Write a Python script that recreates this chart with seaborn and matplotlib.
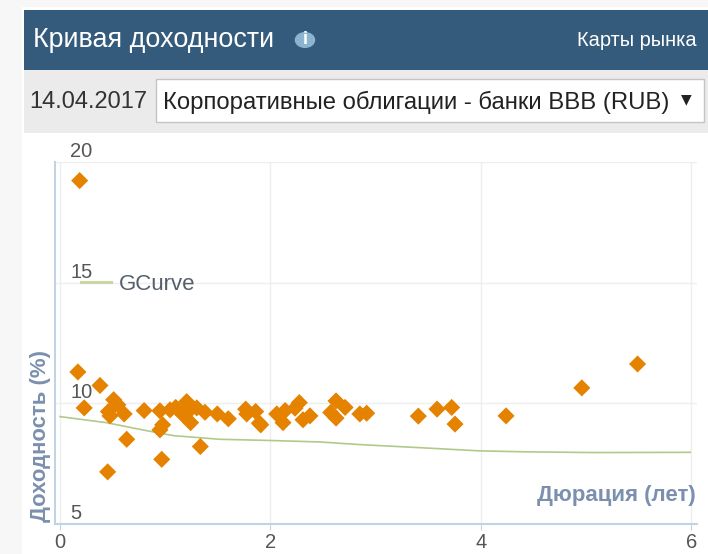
import pandas as pd
import matplotlib
matplotlib.use('Agg')
import matplotlib.pyplot as plt
import matplotlib.transforms as mtrans
from matplotlib.patches import Rectangle, Circle
import seaborn as sns

# bonds
duration = [0.17, 0.38, 0.23, 0.46, 0.475, 0.51, 0.55, 0.61, 0.80, 0.95, 0.976, 0.95, 0.634, 0.453,
            0.967, 1.334, 1.046, 1.10, 1.204, 1.255, 1.17, 1.242, 1.30, 1.378, 1.495, 1.60, 1.765,
            1.775, 1.86, 1.895, 1.908, 2.06, 2.14, 2.12, 2.275, 2.234, 2.31, 2.376, 2.573, 2.624,
            2.624, 2.71, 2.85, 2.915, 3.406, 3.584, 3.723, 3.755, 4.24, 4.96, 5.49, 0.187]
yields = [11.3, 10.74, 9.81, 9.66, 9.48, 10.15, 9.94, 9.56, 9.70, 9.69, 9.11, 8.9, 8.51, 7.16,
          7.68, 8.21, 9.73, 9.83, 10.07, 9.81, 9.52, 9.2, 9.81, 9.63, 9.56, 9.36, 9.76,
          9.56, 9.66, 9.18, 9.11, 9.56, 9.7, 9.2, 10.03, 9.8, 9.32, 9.48, 9.62, 9.39,
          10.1, 9.83, 9.56, 9.59, 9.47, 9.76, 9.83, 9.14, 9.48, 10.64, 11.63, 19.23]

# GCurve
curve_x = [0.0, 0.44, 0.82, 1.08, 1.52, 2.0, 2.47, 2.85, 3.39, 3.99, 4.44, 5.07, 5.99]
curve_y = [9.45, 9.2, 8.87, 8.66, 8.51, 8.46, 8.4, 8.29, 8.17, 8.03, 7.99, 7.96, 7.97]

x_ticks = [0, 2, 4, 6]
y_ticks = [5, 10, 15, 20]

W, H = 708, 554
FONT = 'Liberation Sans'
plt.rcParams['font.family'] = FONT

fig = plt.figure(figsize=(W / 100, H / 100), dpi=100, facecolor='#f7f7f7')


def box(x0, y0, x1, y1, **kw):
    # rectangle given in picture pixels, y going down
    r = Rectangle((x0 / W, 1 - y1 / H), (x1 - x0) / W, (y1 - y0) / H, transform=fig.transFigure, **kw)
    fig.add_artist(r)
    return r


def label(x, y, s, **kw):
    return fig.text(x / W, 1 - y / H, s, **kw)


# page furniture
box(22, 7, W, H, fc='white', ec='none')
box(24, 10, W, 70, fc='#345b7b', ec='none')
box(24, 70, W, 133, fc='#ebebeb', ec='none')
box(156, 79, 704, 122, fc='white', ec='#c4c4c4', lw=1)

label(33, 40, 'Кривая доходности', color='white', fontsize=19.4, va='center')
fig.add_artist(Circle((305 / W, 1 - 40 / H), 0.0145, transform=fig.transFigure, fc='#8db4cf', ec='none'))
label(305, 40, 'i', color='white', fontsize=13, fontweight='bold', ha='center', va='center')
label(697, 40, 'Карты рынка', color='white', fontsize=14.4, ha='right', va='center')
label(29, 102, '14.04.2017', color='#333333', fontsize=17, va='center')
t = label(163, 102, 'Корпоративные облигации - банки BBB (RUB)', color='#222222', fontsize=17.2, va='center')
t.set_clip_path(Rectangle((157, H - 122), 511, 43, transform=None))
t.set_clip_on(True)
label(686, 99, '▼', color='#222222', fontsize=10, ha='center', va='center', family='DejaVu Sans')

# chart
ax = fig.add_axes([55 / W, 1 - 524 / H, (697 - 55) / W, (524 - 162) / H])
ax.set_zorder(5)
bonds = pd.DataFrame({'duration': duration, 'yield': yields})
gcurve = pd.DataFrame({'duration': curve_x, 'yield': curve_y})

sns.lineplot(data=gcurve, x='duration', y='yield', ax=ax, color='#b3c98a', lw=1.2, label='GCurve', zorder=2)
sns.scatterplot(data=bonds, x='duration', y='yield', ax=ax, marker='D', color='#e58200', s=76,
                edgecolor='none', zorder=3, clip_on=False)

ax.set_xlim(-0.0475, 6.055)
ax.set_ylim(5, 20)
ax.set_xticks(x_ticks)
ax.set_yticks(y_ticks)
ax.grid(True, color='#eeeeee', lw=1)
ax.set_axisbelow(True)
ax.set_facecolor('none')
ax.spines['top'].set_visible(False)
ax.spines['right'].set_visible(False)
ax.spines['left'].set_color('#c3d3e6')
ax.spines['bottom'].set_color('#c3d3e6')
ax.spines['left'].set_linewidth(1.5)
ax.spines['bottom'].set_linewidth(1.5)
ax.tick_params(axis='x', length=4, color='#c3d3e6', labelcolor='#555555', labelsize=14.5, pad=2.5)
ax.tick_params(axis='y', length=0, labelcolor='#555555', labelsize=14.5, pad=-11)

# y tick labels sit inside the plot, just above their grid lines
shift = mtrans.ScaledTranslation(0, 1 / 100, fig.dpi_scale_trans)
for lab in ax.get_yticklabels():
    lab.set_ha('left')
    lab.set_va('bottom')
    lab.set_transform(lab.get_transform() + shift)

ax.set_xlabel('')
ax.set_ylabel('')
label(41, 522, 'Доходность (%)', color='#7b90ae', fontsize=15.9, fontweight='bold', rotation=90,
      ha='center', va='bottom', zorder=6)
label(696, 496, 'Дюрация (лет)', color='#7b90ae', fontsize=16, fontweight='bold', ha='right', va='center', zorder=6)

leg = ax.legend(loc='upper left', bbox_to_anchor=(26 / 642, (524 - 282) / 362 + 0.022), frameon=False,
                fontsize=16, handlelength=1.35, handletextpad=0.36, borderpad=0, borderaxespad=0)
for txt in leg.get_texts():
    txt.set_color('#555f6b')
leg.get_lines()[0].set_color('#c8d6a2')
leg.get_lines()[0].set_linewidth(2.2)

fig.savefig('out.png', dpi=100, facecolor=fig.get_facecolor())
